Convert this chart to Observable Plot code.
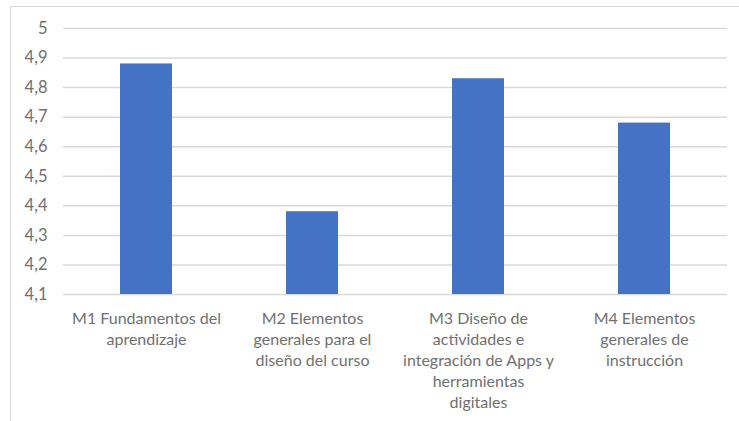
<!DOCTYPE html>
<html>
<head>
<meta charset="utf-8">
<script src="https://cdn.jsdelivr.net/npm/d3@7"></script>
<script src="https://cdn.jsdelivr.net/npm/@observablehq/plot@0.6"></script>
<style>
  html, body { margin: 0; padding: 0; background: #fff; }
  body { width: 739px; height: 421px; overflow: hidden; position: relative; }
  #frame { position: absolute; left: 10px; top: 6px; width: 740px; height: 430px;
           border-left: 1.5px solid #d9d9d9; border-top: 1.5px solid #d9d9d9; }
  #chart { position: absolute; left: 0; top: 0; }
</style>
</head>
<body>
<div id="frame"><div id="chart"></div></div>
<script>
const categories = [
  "M1 Fundamentos del\naprendizaje",
  "M2 Elementos\ngenerales para el\ndiseño del curso",
  "M3 Diseño de\nactividades e\nintegración de Apps y\nherramientas\ndigitales",
  "M4 Elementos\ngenerales de\ninstrucción"
];
const values = [4.88, 4.38, 4.83, 4.68];
const yTicks = [4.1, 4.2, 4.3, 4.4, 4.5, 4.6, 4.7, 4.8, 4.9, 5];

const data = categories.map((c, i) => ({ category: c, value: values[i] }));
const fmt = v => String(Math.round(v * 10) / 10).replace(".", ",");

const chart = Plot.plot({
  width: 729,
  height: 415,
  marginLeft: 52,
  marginRight: 13,
  marginTop: 21,
  marginBottom: 128,
  style: { fontFamily: "Lato, 'Open Sans', sans-serif", fontSize: "16.5px", color: "#595959", background: "#fff" },
  x: { domain: categories, paddingInner: 0.686, paddingOuter: 0.343, label: null },
  y: { domain: [4.1, 5], label: null },
  marks: [
    Plot.gridY(yTicks, { stroke: "#d9d9d9", strokeOpacity: 1, strokeWidth: 1.5 }),
    Plot.barY(data, { x: "category", y1: 4.1, y2: "value", fill: "#4472C4" }),
    Plot.axisY(yTicks, { tickSize: 0, tickPadding: 16, tickFormat: fmt, fill: "#707070", fontSize: 16.5, fontWeight: 400 }),
    Plot.axisX({ tickSize: 0, tickPadding: 14, lineHeight: 1.32, fill: "#707070", fontSize: 16, fontWeight: 400, textOverflow: null, lineWidth: 30 })
  ]
});
document.getElementById("chart").appendChild(chart);
</script>
</body>
</html>
